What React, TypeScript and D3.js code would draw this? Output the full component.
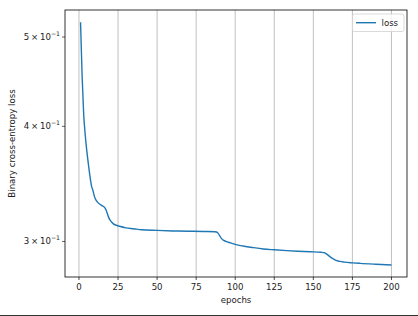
import React from "react";
import * as d3 from "d3";

const epochs = [1, 2, 3, 4, 5, 6, 7, 8, 9, 10, 11, 12, 13, 14, 15, 16, 17, 18, 19, 20, 21, 22, 24, 26, 30, 35, 40, 50, 60, 70, 80, 87, 88, 89, 90, 91, 92, 94, 97, 100, 105, 110, 118, 125, 133, 140, 148, 155, 157, 159, 161, 163, 165, 167, 170, 175, 180, 190, 200];
const loss = [0.519, 0.4536, 0.4126, 0.3915, 0.3762, 0.3642, 0.3534, 0.3447, 0.3404, 0.3353, 0.3324, 0.3308, 0.3296, 0.3287, 0.3279, 0.3271, 0.3255, 0.3222, 0.3186, 0.3162, 0.3147, 0.3135, 0.3124, 0.3116, 0.3104, 0.3097, 0.3089, 0.3084, 0.308, 0.3078, 0.3076, 0.3074, 0.3072, 0.3063, 0.3044, 0.3025, 0.3013, 0.3001, 0.2989, 0.2978, 0.2966, 0.2957, 0.2944, 0.2938, 0.2932, 0.2928, 0.2924, 0.292, 0.2917, 0.2903, 0.2885, 0.2871, 0.286, 0.2854, 0.2849, 0.2844, 0.284, 0.2834, 0.2829];
const xTicks = [0, 25, 50, 75, 100, 125, 150, 175, 200];
const yTicks = [0.5, 0.4, 0.3];
const yTickMantissa = ["5", "4", "3"];
const seriesName = "loss";

const W = 418, H = 316;
const L = 65, R = 407, T = 10, B = 277;
const FONT = "DejaVu Sans, sans-serif";

export default function App() {
  const x = d3.scaleLinear().domain([-8.95, 209.95]).range([L, R]);
  const y = d3.scaleLog().domain([0.2745, 0.535]).range([B, T]);
  const pts = epochs.map((e, i) => [e, loss[i]] as [number, number]);
  const line = d3.line<[number, number]>().x(d => x(d[0])).y(d => y(d[1])).curve(d3.curveMonotoneX);
  const fs = 8.6;
  return (
    <svg width={W} height={H} style={{ position: "absolute", left: 0, top: 0, background: "#fff" }} fontFamily={FONT}>
      <rect x={0} y={0} width={W} height={H} fill="#fff" />
      {xTicks.map(t => (
        <line key={"g" + t} x1={x(t)} x2={x(t)} y1={T} y2={B} stroke="#b0b0b0" strokeWidth={0.8} />
      ))}
      <path d={line(pts) || ""} fill="none" stroke="#1f77b4" strokeWidth={1.4} />
      <rect x={L} y={T} width={R - L} height={B - T} fill="none" stroke="#000" strokeWidth={0.8} />
      {xTicks.map(t => (
        <g key={"x" + t}>
          <line x1={x(t)} x2={x(t)} y1={B} y2={B + 3} stroke="#000" strokeWidth={0.7} />
          <text x={x(t)} y={B + 13} fontSize={fs} textAnchor="middle" fill="#222">{t}</text>
        </g>
      ))}
      {yTicks.map((t, i) => (
        <g key={"y" + t}>
          <line x1={L - 3} x2={L} y1={y(t)} y2={y(t)} stroke="#000" strokeWidth={0.6} />
          <text x={L - 5} y={y(t) + 3} fontSize={fs} textAnchor="end" fill="#222">
            {yTickMantissa[i] + "\u2009\u00d7\u200910"}
            <tspan fontSize={6.2} dy={-4}>{"\u22121"}</tspan>
          </text>
        </g>
      ))}
      <text x={(L + R) / 2} y={303} fontSize={fs} textAnchor="middle" fill="#222">epochs</text>
      <text transform={`translate(15,${(T + B) / 2}) rotate(-90)`} fontSize={fs} textAnchor="middle" fill="#222">Binary cross-entropy loss</text>
      <g>
        <rect x={352.5} y={14} width={51.5} height={17.5} rx={2} fill="#fff" fillOpacity={0.8} stroke="#d0d0d0" strokeWidth={0.8} />
        <line x1={356} x2={376} y1={22.7} y2={22.7} stroke="#1f77b4" strokeWidth={1.4} />
        <text x={381.5} y={25.8} fontSize={fs} fill="#222">{seriesName}</text>
      </g>
      <line x1={0} x2={W} y1={315.5} y2={315.5} stroke="#333" strokeWidth={1} />
    </svg>
  );
}
